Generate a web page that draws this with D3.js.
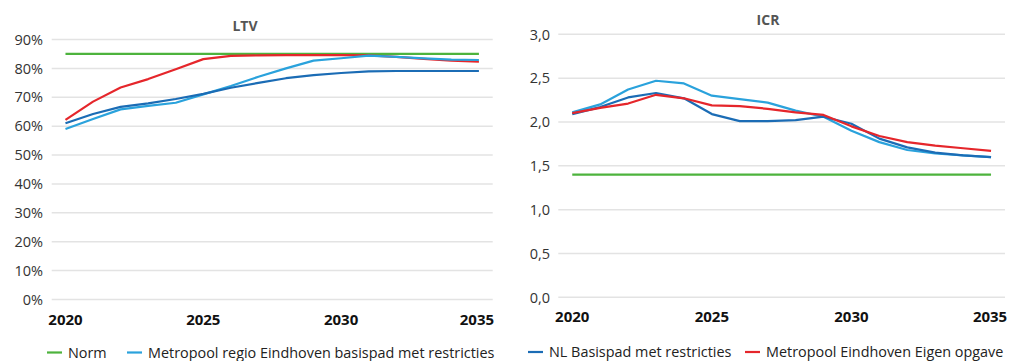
<!DOCTYPE html>
<html>
<head>
<meta charset="utf-8">
<script src="https://cdn.jsdelivr.net/npm/d3@7"></script>
<style>
  html, body { margin: 0; padding: 0; background: #fff; }
  svg { display: block; font-family: "Open Sans", "Noto Sans", sans-serif; }
</style>
</head>
<body>
<svg id="chart" width="1011" height="361"></svg>
<script>
// ---- data ----
const years = [2020,2021,2022,2023,2024,2025,2026,2027,2028,2029,2030,2031,2032,2033,2034,2035];
const yearLabels = [2020, 2025, 2030, 2035];

// LTV (%)
const ltvNorm = [85,85,85,85,85,85,85,85,85,85,85,85,85,85,85,85];
const ltvMetropoolBasis = [59,62.5,65.8,67,68.1,71,73.9,77.1,80,82.7,83.5,84.4,84,83.5,83,82.9];
const ltvNLBasis = [61,64.2,66.7,67.9,69.4,71.2,73.3,75,76.6,77.7,78.4,79,79.1,79.1,79.1,79.1];
const ltvEigen = [62.2,68.5,73.4,76.3,79.7,83.2,84.3,84.5,84.6,84.6,84.6,84.5,84,83.3,82.7,82.3];
const ltvTicks = [0,10,20,30,40,50,60,70,80,90];

// ICR
const icrNorm = [1.4,1.4,1.4,1.4,1.4,1.4,1.4,1.4,1.4,1.4,1.4,1.4,1.4,1.4,1.4,1.4];
const icrMetropoolBasis = [2.11,2.2,2.37,2.47,2.44,2.3,2.26,2.22,2.13,2.06,1.9,1.77,1.68,1.64,1.62,1.6];
const icrNLBasis = [2.09,2.17,2.28,2.33,2.27,2.09,2.01,2.01,2.02,2.06,1.98,1.81,1.71,1.65,1.62,1.6];
const icrEigen = [2.1,2.16,2.21,2.31,2.27,2.19,2.18,2.15,2.11,2.08,1.95,1.84,1.77,1.73,1.7,1.67];
const icrTicks = [0,0.5,1,1.5,2,2.5,3];

const colors = { norm: "#4db33d", metroBasis: "#2aa2dc", nlBasis: "#1b6cb5", eigen: "#e5262b" };

const svg = d3.select("#chart");

function panel(opt) {
  const x = d3.scaleBand().domain(years).range(opt.xRange).padding(0);
  const y = d3.scaleLinear().domain(opt.yDomain).range(opt.yRange);
  const g = svg.append("g");

  // gridlines
  g.selectAll("line.grid").data(opt.ticks).join("line")
    .attr("x1", opt.xRange[0]).attr("x2", opt.xRange[1])
    .attr("y1", d => y(d)).attr("y2", d => y(d))
    .attr("stroke", "#e3e3e3").attr("stroke-width", 1.5);

  // y labels
  g.selectAll("text.ytick").data(opt.ticks).join("text")
    .attr("x", opt.yLabelX).attr("y", d => y(d)).attr("dy", "0.36em")
    .attr("text-anchor", "end").attr("font-size", 14.5).attr("fill", "#333")
    .text(opt.fmt);

  // x labels
  g.selectAll("text.xtick").data(yearLabels).join("text")
    .attr("x", d => x(d) + x.bandwidth() / 2 + (d === 2035 ? opt.lastShift : 0))
    .attr("y", opt.xLabelY)
    .attr("text-anchor", "middle").attr("font-size", 15).attr("font-weight", "bold").attr("fill", "#111")
    .text(d => d);

  const line = d3.line().x((d, i) => x(years[i]) + x.bandwidth() / 2).y(d => y(d));
  opt.series.forEach(s => {
    g.append("path").datum(s.values)
      .attr("d", line).attr("fill", "none")
      .attr("stroke", s.color).attr("stroke-width", 2.2)
      .attr("stroke-linejoin", "round");
  });

  // title
  g.append("text").attr("x", opt.titleX).attr("y", opt.titleY)
    .attr("text-anchor", "middle").attr("font-size", 14).attr("font-weight", "bold").attr("fill", "#555")
    .text(opt.title);
}

panel({
  xRange: [51.7, 492.7], yDomain: [0, 90], yRange: [299.5, 39.5],
  ticks: ltvTicks, fmt: d => d + "%", yLabelX: 43, xLabelY: 324.5, lastShift: -2,
  title: "LTV", titleX: 245, titleY: 30.5,
  series: [
    { values: ltvNorm, color: colors.norm },
    { values: ltvEigen, color: colors.eigen },
    { values: ltvMetropoolBasis, color: colors.metroBasis },
    { values: ltvNLBasis, color: colors.nlBasis }
  ]
});

panel({
  xRange: [558.3, 1005], yDomain: [0, 3], yRange: [297.3, 34.3],
  ticks: icrTicks, fmt: d => d3.format(".1f")(d).replace(".", ","), yLabelX: 550, xLabelY: 321.5, lastShift: -1,
  title: "ICR", titleX: 768, titleY: 25,
  series: [
    { values: icrNorm, color: colors.norm },
    { values: icrMetropoolBasis, color: colors.metroBasis },
    { values: icrNLBasis, color: colors.nlBasis },
    { values: icrEigen, color: colors.eigen }
  ]
});

// legends
const legendItems = [
  { label: "Norm", color: colors.norm, x: 47, y: 352.5 },
  { label: "Metropool regio Eindhoven basispad met restricties", color: colors.metroBasis, x: 127, y: 352.5 },
  { label: "NL Basispad met restricties", color: colors.nlBasis, x: 528, y: 352 },
  { label: "Metropool Eindhoven Eigen opgave", color: colors.eigen, x: 745, y: 352 }
];
const lg = svg.append("g");
legendItems.forEach(it => {
  lg.append("line").attr("x1", it.x).attr("x2", it.x + 15).attr("y1", it.y).attr("y2", it.y)
    .attr("stroke", it.color).attr("stroke-width", 2.2);
  lg.append("text").attr("x", it.x + 21).attr("y", it.y).attr("dy", "0.36em")
    .attr("font-size", 14.4).attr("fill", "#222").text(it.label);
});
</script>
</body>
</html>
